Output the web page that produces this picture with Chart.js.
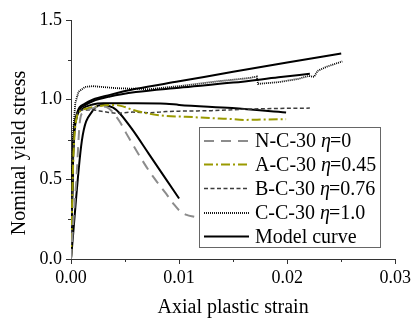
<!DOCTYPE html>
<html>
<head>
<meta charset="utf-8">
<script src="https://cdn.jsdelivr.net/npm/chart.js@4.4.1/dist/chart.umd.min.js"></script>
<style>
html,body{margin:0;padding:0;background:#fff;}
#c{display:block;}
</style>
</head>
<body>
<canvas id="c" width="414" height="318"></canvas>
<script>
// ---- data ----
const xTickValues = [0, 0.01, 0.02, 0.03];
const yTickValues = [0, 0.5, 1.0, 1.5];

const nX = [0, 0.0002, 0.0005, 0.0008, 0.0011, 0.0015, 0.0022, 0.0029, 0.0035, 0.0040, 0.0045, 0.0051, 0.0057, 0.0065, 0.0072, 0.0080, 0.0088, 0.0095, 0.0101, 0.0107, 0.0114];
const nY = [0, 0.22, 0.5, 0.85, 0.92, 0.935, 0.95, 0.957, 0.945, 0.91, 0.863, 0.79, 0.72, 0.63, 0.555, 0.48, 0.41, 0.345, 0.30, 0.277, 0.265];

const aX = [0, 0.0002, 0.0005, 0.0009, 0.0015, 0.0027, 0.0040, 0.0048, 0.0057, 0.0072, 0.0088, 0.0106, 0.013, 0.0145, 0.0161, 0.018, 0.0199];
const aY = [0, 0.6, 0.88, 0.93, 0.945, 0.96, 0.967, 0.958, 0.936, 0.912, 0.898, 0.893, 0.884, 0.88, 0.873, 0.876, 0.877];

const bX = [0, 0.0002, 0.0005, 0.001, 0.002, 0.003, 0.0042, 0.0057, 0.0072, 0.0088, 0.01, 0.013, 0.0161, 0.0192, 0.0221];
const bY = [0, 0.65, 0.9, 0.935, 0.935, 0.925, 0.915, 0.922, 0.918, 0.925, 0.928, 0.931, 0.94, 0.945, 0.947];

const cX = [0, 0.0001, 0.0002, 0.0004, 0.0007, 0.0013, 0.002, 0.0042, 0.0072, 0.0103, 0.0134, 0.0164, 0.0172, 0.0173, 0.0192, 0.021, 0.022, 0.0225, 0.0228, 0.0237, 0.0251];
const cY = [0, 0.5, 0.8, 0.98, 1.05, 1.08, 1.085, 1.072, 1.066, 1.087, 1.114, 1.135, 1.145, 1.099, 1.11, 1.13, 1.149, 1.143, 1.18, 1.208, 1.24];

const m1X = [0, 0.0002, 0.0005, 0.0013, 0.002, 0.0036, 0.006, 0.01, 0.015, 0.02, 0.025];
const m1Y = [0, 0.7, 0.9, 0.975, 1.0, 1.03, 1.068, 1.115, 1.175, 1.233, 1.29];
const m2X = [0, 0.0002, 0.0005, 0.0013, 0.002, 0.0036, 0.006, 0.01, 0.015, 0.0192, 0.0221];
const m2Y = [0, 0.68, 0.89, 0.965, 0.99, 1.02, 1.048, 1.075, 1.107, 1.14, 1.162];
const m3X = [0, 0.0002, 0.0005, 0.001, 0.002, 0.003, 0.006, 0.0088, 0.01, 0.0149, 0.0199];
const m3Y = [0, 0.65, 0.88, 0.94, 0.97, 0.978, 0.978, 0.975, 0.967, 0.947, 0.92];
const m4X = [0, 0.001, 0.002, 0.003, 0.0039, 0.0045, 0.0057, 0.0072, 0.0088, 0.01];
const m4Y = [0, 0.74, 0.93, 0.967, 0.95, 0.915, 0.81, 0.66, 0.50, 0.38];

const legendLabels = [
  ["N-C-30 ", "η", "=0"],
  ["A-C-30 ", "η", "=0.45"],
  ["B-C-30 ", "η", "=0.76"],
  ["C-C-30 ", "η", "=1.0"],
  ["Model curve", "", ""]
];
const xTitle = "Axial plastic strain";
const yTitle = "Nominal yield stress";

// ---- styles ----
const SERIF = "'Liberation Serif', 'Times New Roman', serif";
const styles = [
  {color: "#8c8c8c", width: 2, dash: [10, 7]},
  {color: "#9a9a00", width: 2, dash: [9, 3, 2, 3]},
  {color: "#3c3c3c", width: 1.5, dash: [4, 2.5]},
  {color: "#000000", width: 1.8, dash: [1, 1]},
  {color: "#000000", width: 2, dash: []}
];

function pts(xs, ys) { return xs.map((x, i) => ({x: x, y: ys[i]})); }
function ds(xs, ys, st, mode) {
  return {data: pts(xs, ys), borderColor: st.color, borderWidth: st.width, borderDash: st.dash,
          pointRadius: 0, showLine: true, fill: false,
          tension: mode === 'linear' ? 0 : 0.3,
          cubicInterpolationMode: mode === 'linear' ? 'default' : 'monotone'};
}

const datasets = [
  ds(nX, nY, styles[0]),
  ds(aX, aY, styles[1]),
  ds(bX, bY, styles[2]),
  ds(cX, cY, styles[3], 'linear'),
  ds(m1X, m1Y, styles[4]),
  ds(m2X, m2Y, styles[4]),
  ds(m3X, m3Y, styles[4]),
  ds(m4X, m4Y, styles[4])
];

function isMajor(v, step) { const r = v / step; return Math.abs(r - Math.round(r)) < 1e-6; }

const decorPlugin = {
  id: 'decor',
  afterDraw(chart) {
    const ctx = chart.ctx;
    const xs = chart.scales.x, ys = chart.scales.y;
    ctx.save();
    // minor ticks
    ctx.strokeStyle = "#333";
    ctx.lineWidth = 1;
    xs.ticks.forEach(t => {
      if (!isMajor(t.value, 0.01)) {
        const px = Math.round(xs.getPixelForValue(t.value)) + 0.5;
        ctx.beginPath(); ctx.moveTo(px, xs.top); ctx.lineTo(px, xs.top + 3); ctx.stroke();
      }
    });
    ys.ticks.forEach(t => {
      if (!isMajor(t.value, 0.5)) {
        const py = Math.round(ys.getPixelForValue(t.value)) + 0.5;
        ctx.beginPath(); ctx.moveTo(ys.right, py); ctx.lineTo(ys.right - 3, py); ctx.stroke();
      }
    });
    // axis titles
    ctx.fillStyle = "#000";
    ctx.font = "20px " + SERIF;
    ctx.textAlign = "center";
    ctx.textBaseline = "alphabetic";
    ctx.fillText(xTitle, (chart.chartArea.left + chart.chartArea.right) / 2, 313);
    ctx.save();
    ctx.translate(24.5, 153);
    ctx.rotate(-Math.PI / 2);
    ctx.fillText(yTitle, 0, 0);
    ctx.restore();
    // legend
    const bx = 199.5, by = 127.5, bw = 181, bh = 120;
    ctx.fillStyle = "#fff";
    ctx.fillRect(bx, by, bw, bh);
    ctx.strokeStyle = "#666";
    ctx.lineWidth = 1;
    ctx.setLineDash([]);
    ctx.strokeRect(bx, by, bw, bh);
    const rows = [141, 164.5, 188.5, 213, 236.5];
    legendLabels.forEach((lab, i) => {
      const st = styles[i];
      const y = rows[i];
      ctx.strokeStyle = st.color;
      ctx.lineWidth = st.width;
      ctx.setLineDash(st.dash);
      ctx.beginPath(); ctx.moveTo(204, y); ctx.lineTo(249, y); ctx.stroke();
      ctx.setLineDash([]);
      ctx.fillStyle = "#000";
      ctx.textAlign = "left";
      ctx.textBaseline = "middle";
      let x = 255;
      ctx.font = "20px " + SERIF;
      ctx.fillText(lab[0], x, y + 1);
      x += ctx.measureText(lab[0]).width;
      if (lab[1]) {
        ctx.font = "italic 20px " + SERIF;
        ctx.fillText(lab[1], x, y + 1);
        x += ctx.measureText(lab[1]).width - 1;
        ctx.font = "20px " + SERIF;
        ctx.fillText(lab[2], x, y + 1);
      }
    });
    ctx.restore();
  }
};

new Chart(document.getElementById('c'), {
  type: 'scatter',
  data: {datasets: datasets},
  options: {
    responsive: false,
    animation: false,
    layout: {padding: {top: 20, right: 16, left: 0, bottom: 0}},
    plugins: {legend: {display: false}, tooltip: {enabled: false}},
    scales: {
      x: {
        type: 'linear', min: xTickValues[0], max: xTickValues[xTickValues.length - 1],
        afterFit(s) { s.height = 59; },
        ticks: {stepSize: 0.005, autoSkip: false, maxRotation: 0, padding: 3, color: '#000',
                font: {family: SERIF, size: 18},
                callback: v => isMajor(v, 0.01) ? v.toFixed(2) : ''},
        grid: {drawOnChartArea: false, tickLength: 5,
               tickColor: c => isMajor(c.tick.value, 0.01) ? '#333' : 'rgba(0,0,0,0)'},
        border: {display: true, color: '#333', width: 1}
      },
      y: {
        type: 'linear', min: yTickValues[0], max: yTickValues[yTickValues.length - 1],
        afterFit(s) { s.width = 71; },
        ticks: {stepSize: 0.25, autoSkip: false, padding: 4, color: '#000',
                font: {family: SERIF, size: 18},
                callback: v => isMajor(v, 0.5) ? v.toFixed(1) : ''},
        grid: {drawOnChartArea: false, tickLength: 5,
               tickColor: c => isMajor(c.tick.value, 0.5) ? '#333' : 'rgba(0,0,0,0)'},
        border: {display: true, color: '#333', width: 1}
      }
    }
  },
  plugins: [decorPlugin]
});
</script>
</body>
</html>
